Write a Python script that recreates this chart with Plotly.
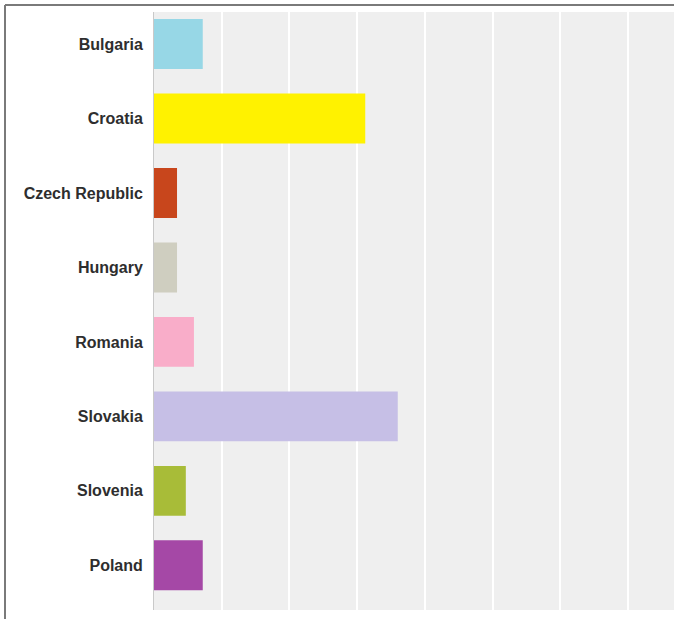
import plotly.graph_objects as go

countries = ["Bulgaria", "Croatia", "Czech Republic", "Hungary",
             "Romania", "Slovakia", "Slovenia", "Poland"]
values = [7.2, 31.2, 3.4, 3.4, 5.9, 36.0, 4.7, 7.2]
colors = ["#97D7E6", "#FFF200", "#C8461C", "#CFCEC0",
          "#F9ADC9", "#C6BFE6", "#A8BC38", "#A548A6"]

W, H = 674, 619
L, R, T, B = 154, 0, 12, 9

fig = go.Figure(go.Bar(
    x=values, y=countries, orientation="h",
    marker=dict(color=colors, line=dict(width=0)),
    hoverinfo="x+y",
))

# frame lines along the top and left edges of the page
pw = W - L - R
ph = H - T - B
def px_x(p):
    return (p - L) / pw
def px_y(p):
    return (H - B - p) / ph

fig.add_shape(type="line", xref="paper", yref="paper",
              x0=px_x(5), x1=px_x(W), y0=px_y(5), y1=px_y(5),
              line=dict(color="#7a7a7a", width=2))
fig.add_shape(type="line", xref="paper", yref="paper",
              x0=px_x(5), x1=px_x(5), y0=px_y(5), y1=px_y(H + 2),
              line=dict(color="#7a7a7a", width=2))

fig.update_layout(
    width=W, height=H,
    margin=dict(l=L, r=R, t=T, b=B, pad=0),
    paper_bgcolor="white",
    plot_bgcolor="#EFEFEF",
    bargap=0.33,
    showlegend=False,
    xaxis=dict(range=[0, 76.8], dtick=10, showticklabels=False,
               showgrid=True, gridcolor="white", gridwidth=2,
               zeroline=False, showline=False, fixedrange=True),
    yaxis=dict(range=[7.6, -0.43], showgrid=False, zeroline=False,
               showline=True, linecolor="#C9C9C9", linewidth=1,
               ticks="", ticklabelstandoff=7,
               tickfont=dict(family="Liberation Sans, Arial", size=16,
                             color="#2e2e2e", weight="bold")),
)

fig.write_html("out.html")
